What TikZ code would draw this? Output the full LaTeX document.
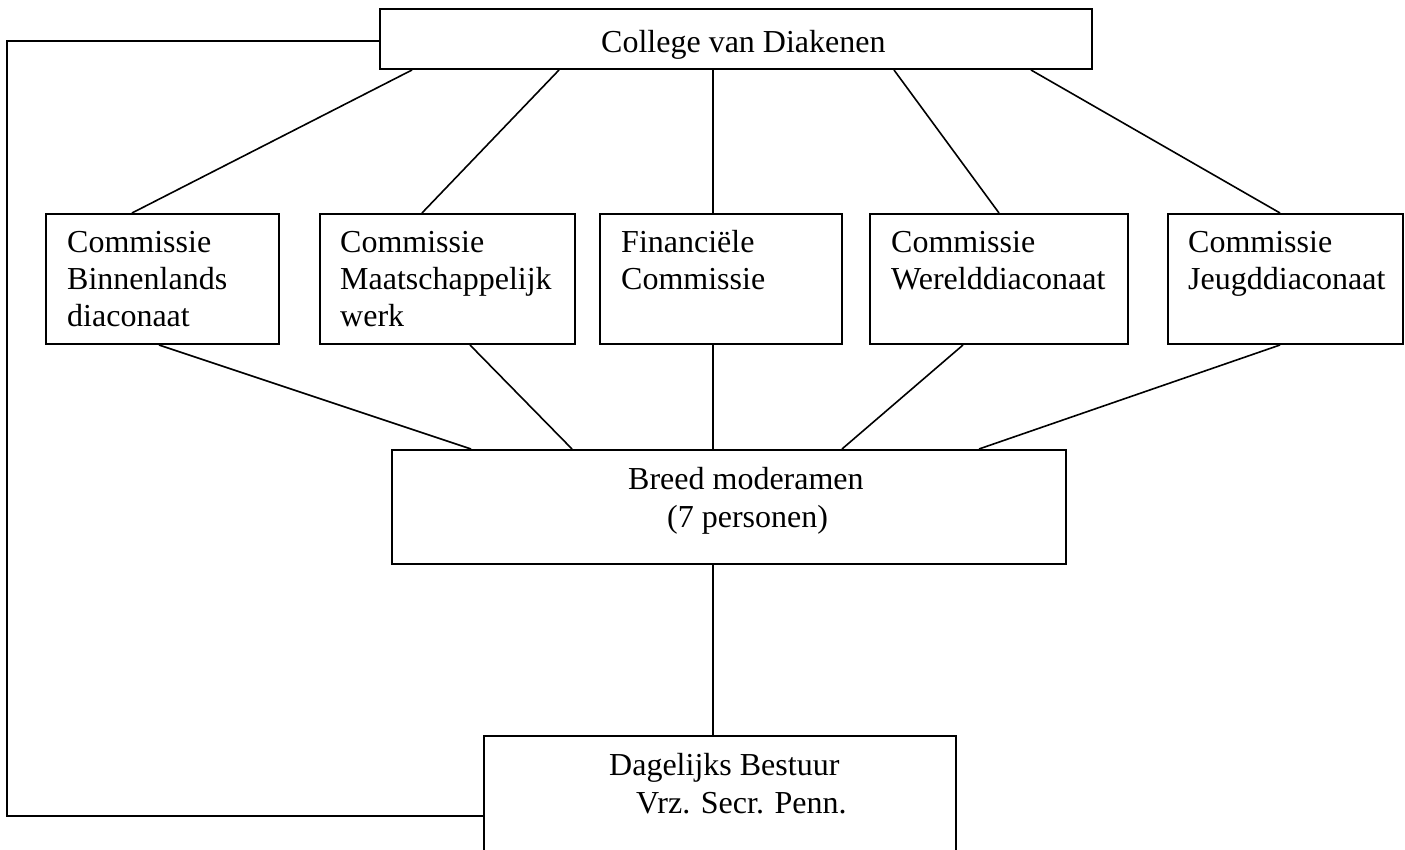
\documentclass[tikz,border=0pt]{standalone}
\usepackage{fontspec}
\setmainfont{Liberation Serif}
\newcommand\boxlines[1]{\begin{tabular}[t]{@{}l@{}}#1\end{tabular}}
\tikzset{
  orgbox/.style={draw=black, line width=2pt, fill=white, inner sep=0pt, rectangle},
  conn/.style={draw=black, line width=1.6pt},
  lbl/.style={inner sep=0pt, font=\fontsize{32}{36.8}\selectfont, anchor=base west},
}
\begin{document}
\begin{tikzpicture}[x=1pt, y=-1pt]
\useasboundingbox (0,0) rectangle (1405,850);
\clip (0,0) rectangle (1405,850);
\fill[white] (0,0) rectangle (1405,850);

% boxes
\node[orgbox, minimum width=712pt, minimum height=60pt] (top) at (736,39) {};
\node[orgbox, minimum width=233pt, minimum height=130pt] (c1) at (162.5,279) {};
\node[orgbox, minimum width=255pt, minimum height=130pt] (c2) at (447.5,279) {};
\node[orgbox, minimum width=242pt, minimum height=130pt] (c3) at (721,279) {};
\node[orgbox, minimum width=258pt, minimum height=130pt] (c4) at (999,279) {};
\node[orgbox, minimum width=235pt, minimum height=130pt] (c5) at (1285.5,279) {};
\node[orgbox, minimum width=674pt, minimum height=114pt] (breed) at (729,507) {};
\node[orgbox, minimum width=472pt, minimum height=150pt] (dag) at (720,811) {};

% texts
\node[lbl] (toptxt) at (601,53) {College van Diakenen};
\node[lbl] (c1txt) at (67,253) {\boxlines{Commissie\\Binnenlands\\diaconaat}};
\node[lbl] (c2txt) at (340,253) {\boxlines{Commissie\\Maatschappelijk\\werk}};
\node[lbl] (c3txt) at (621,253) {\boxlines{Financiële\\Commissie}};
\node[lbl] (c4txt) at (891,253) {\boxlines{Commissie\\Werelddiaconaat}};
\node[lbl] (c5txt) at (1188,253) {\boxlines{Commissie\\Jeugddiaconaat}};
\node[lbl] (breedA) at (628,489) {Breed moderamen};
\node[lbl] (breedB) at (667,527) {(7 personen)};
\node[lbl] (dagA) at (609,775) {Dagelijks Bestuur};
\node[lbl] (dagB) at (636,813) {Vrz. Secr. Penn.};

% connectors top -> commissions
\draw[conn] ([xshift=33pt]top.south west) -- ([xshift=87pt]c1.north west);
\draw[conn] ([xshift=180pt]top.south west) -- ([xshift=103pt]c2.north west);
\draw[conn] ([xshift=334pt]top.south west) -- ([xshift=114pt]c3.north west);
\draw[conn] ([xshift=515pt]top.south west) -- ([xshift=130pt]c4.north west);
\draw[conn] ([xshift=652pt]top.south west) -- ([xshift=113pt]c5.north west);

% commissions -> breed
\draw[conn] ([xshift=114pt]c1.south west) -- ([xshift=80pt]breed.north west);
\draw[conn] ([xshift=151pt]c2.south west) -- ([xshift=181pt]breed.north west);
\draw[conn] ([xshift=114pt]c3.south west) -- ([xshift=322pt]breed.north west);
\draw[conn] ([xshift=94pt]c4.south west) -- ([xshift=451pt]breed.north west);
\draw[conn] ([xshift=113pt]c5.south west) -- ([xshift=588pt]breed.north west);

% breed -> dag
\draw[conn] ([xshift=322pt]breed.south west) -- ([xshift=230pt]dag.north west);

% loop on the left
\draw[conn] ([yshift=-2pt]top.west) -- ++(-372,0) |- ([yshift=-5pt]dag.west);
\end{tikzpicture}
\end{document}
